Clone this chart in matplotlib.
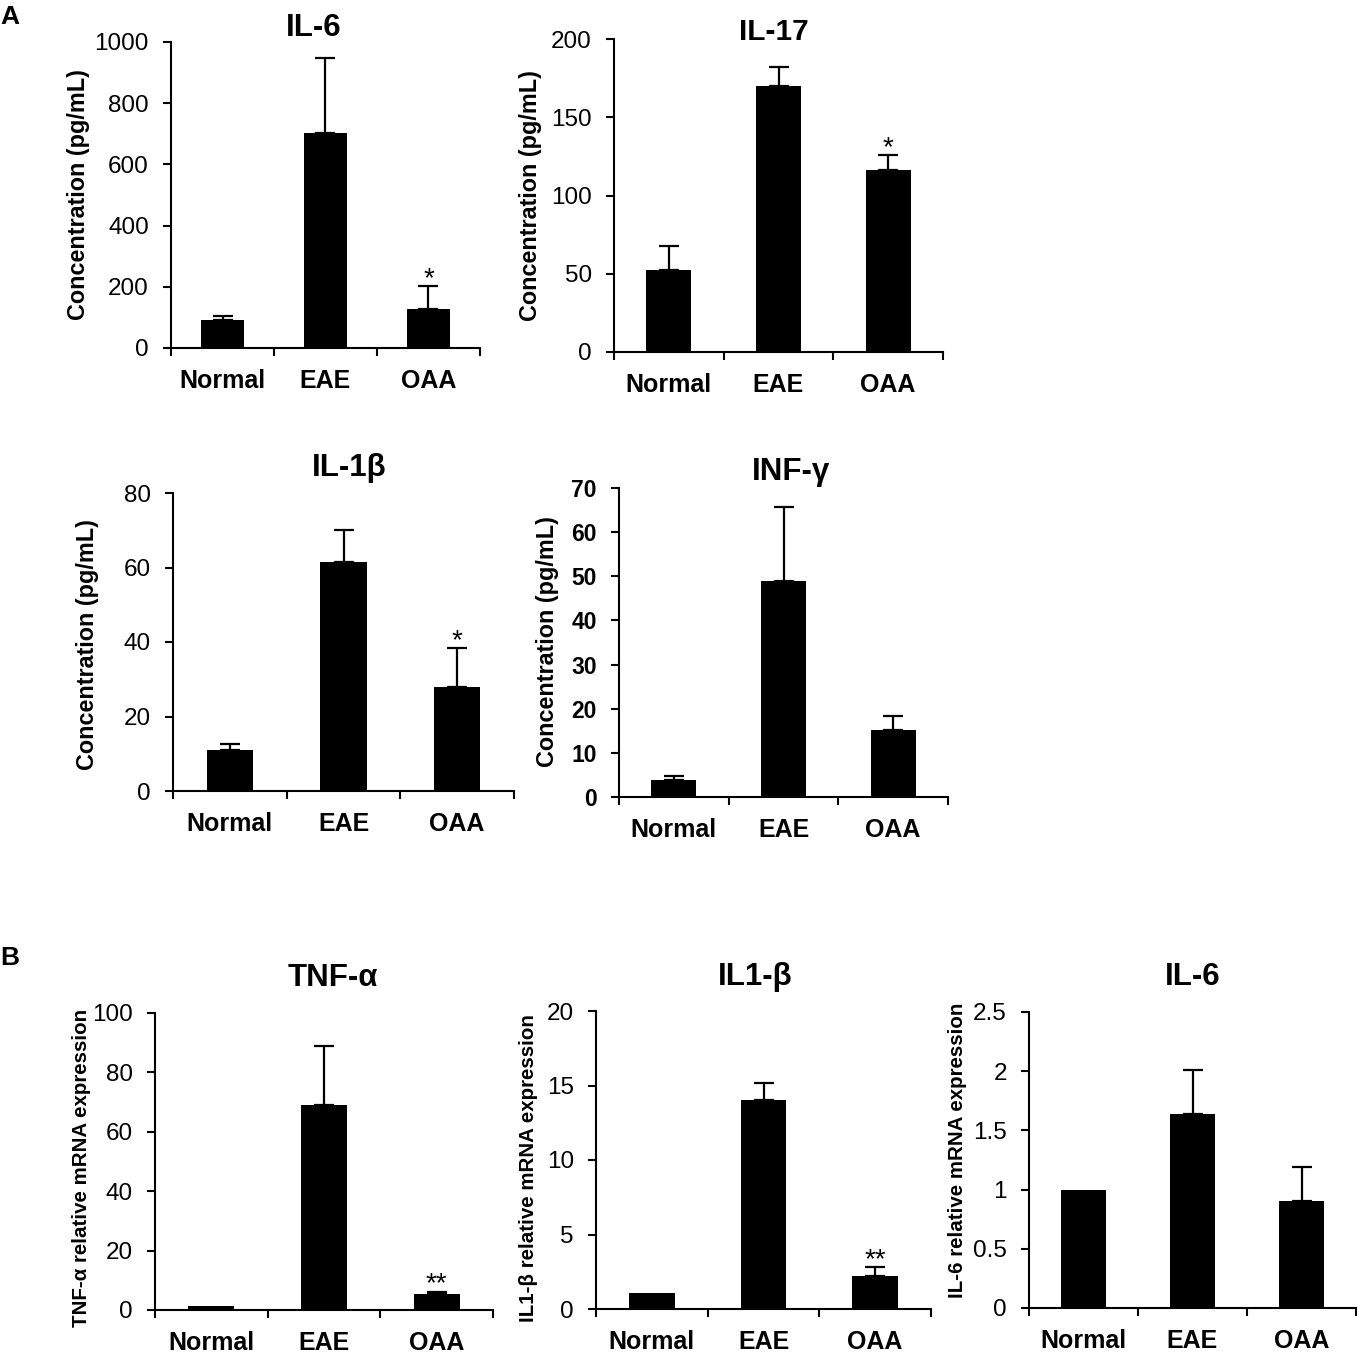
import matplotlib
matplotlib.use('Agg')
import matplotlib.pyplot as plt
import numpy as np
from matplotlib.ticker import FormatStrFormatter

plt.rcParams['font.family'] = ['Liberation Sans', 'DejaVu Sans']

groups = ['Normal', 'EAE', 'OAA']

# A: cytokine concentration (pg/mL), mean and upper error
il6_conc = [93, 704, 126]
il6_conc_err = [13, 244, 77]
il17_conc = [52.6, 169.7, 116]
il17_conc_err = [15.3, 12.2, 9.9]
il1b_conc = [11.1, 61.4, 28.0]
il1b_conc_err = [1.4, 8.6, 10.3]
infg_conc = [3.8, 49.0, 15.2]
infg_conc_err = [1.0, 16.7, 3.2]

# B: relative mRNA expression
tnfa_mrna = [1.2, 69.0, 5.3]
tnfa_mrna_err = [0, 19.8, 0.9]
il1b_mrna = [1.1, 14.0, 2.2]
il1b_mrna_err = [0, 1.2, 0.6]
il6_mrna = [1.0, 1.64, 0.905]
il6_mrna_err = [0, 0.37, 0.285]

W, H = 1358, 1354
fig = plt.figure(figsize=(W / 100, H / 100), dpi=100)


def px_axes(left, top, right, bottom):
    return fig.add_axes([left / W, 1 - bottom / H, (right - left) / W, (bottom - top) / H])


def bar_panel(rect, vals, errs, ymax, ystep, title, title_xy, title_size,
              ylabel, ylabel_xy, ylabel_size, stars='', tick_size=17.5,
              tick_bold=False, ypad=10):
    ax = px_axes(*rect)
    x = np.arange(len(groups)) + 0.5
    vals = np.array(vals, dtype=float)
    errs = np.array(errs, dtype=float)
    ax.bar(x, vals, width=0.41, color='black', zorder=2)
    m = errs > 0
    ax.errorbar(x[m], vals[m], yerr=[np.zeros(m.sum()), errs[m]], fmt='none',
                ecolor='black', elinewidth=1.6, capsize=7.5, capthick=1.6, zorder=1)
    if stars:
        ax.annotate(stars, xy=(x[2], vals[2] + errs[2]), xytext=(0, 0),
                    textcoords='offset points', ha='center', va='baseline',
                    fontsize=20)
    ax.set_xlim(0, 3)
    ax.set_ylim(0, ymax)
    ax.set_yticks(np.arange(0, ymax + ystep / 2, ystep))
    ax.yaxis.set_major_formatter(FormatStrFormatter('%g'))
    ax.set_xticks([0, 1, 2, 3])
    ax.set_xticklabels([])
    ax.set_xticks(x, minor=True)
    ax.set_xticklabels(groups, minor=True, fontsize=18, fontweight='bold')
    ax.tick_params(axis='x', which='major', direction='out', length=6, width=1.5)
    ax.tick_params(axis='x', which='minor', length=0, pad=15)
    ax.tick_params(axis='y', direction='out', length=6, width=1.5,
                   labelsize=tick_size, pad=ypad)
    if tick_bold:
        for t in ax.get_yticklabels():
            t.set_fontweight('bold')
    for s in ['top', 'right']:
        ax.spines[s].set_visible(False)
    for s in ['left', 'bottom']:
        ax.spines[s].set_linewidth(1.5)
    ax.set_ylabel(ylabel, fontsize=ylabel_size, fontweight='bold', va='center')
    ax.yaxis.set_label_coords(ylabel_xy[0] / W, 1 - ylabel_xy[1] / H,
                              transform=fig.transFigure)
    fig.text(title_xy[0] / W, 1 - title_xy[1] / H, title, ha='center',
             va='baseline', fontsize=title_size, fontweight='bold')
    return ax


conc_label = 'Concentration (pg/mL)'

bar_panel((171, 42, 480, 348), il6_conc, il6_conc_err, 1000, 200,
          'IL-6', (314, 36), 22.5, conc_label, (79, 195), 16.8, stars='*')
bar_panel((614, 39, 943, 352), il17_conc, il17_conc_err, 200, 50,
          'IL-17', (774, 40.5), 21.5, conc_label, (530, 196), 16.8, stars='*')
bar_panel((173, 493, 514, 791), il1b_conc, il1b_conc_err, 80, 20,
          'IL-1β', (349, 476), 22.5, conc_label, (87.5, 645), 16.8, stars='*')
bar_panel((619, 488, 948, 797), infg_conc, infg_conc_err, 70, 10,
          'INF-γ', (791, 480), 22.5, conc_label, (547.5, 642), 16.8,
          tick_size=16.5, tick_bold=True)

bar_panel((155, 1013, 493, 1310), tnfa_mrna, tnfa_mrna_err, 100, 20,
          'TNF-α', (333, 986), 22.5, 'TNF-α relative mRNA expression', (82, 1168), 14.8,
          stars='**')
bar_panel((596, 1011, 931, 1309), il1b_mrna, il1b_mrna_err, 20, 5,
          'IL1-β', (755, 985), 22.5, 'IL1-β relative mRNA expression', (528, 1168), 14.8,
          stars='**')
bar_panel((1029, 1012, 1356, 1308), il6_mrna, il6_mrna_err, 2.5, 0.5,
          'IL-6', (1192.5, 985), 22.5, 'IL-6 relative mRNA expression', (957.5, 1150), 14.8)

fig.text(0 / W, 1 - 24 / H, 'A', fontsize=19, fontweight='bold', va='baseline')
fig.text(0 / W, 1 - 965 / H, 'B', fontsize=19, fontweight='bold', va='baseline')

fig.savefig('out.png', dpi=100)
